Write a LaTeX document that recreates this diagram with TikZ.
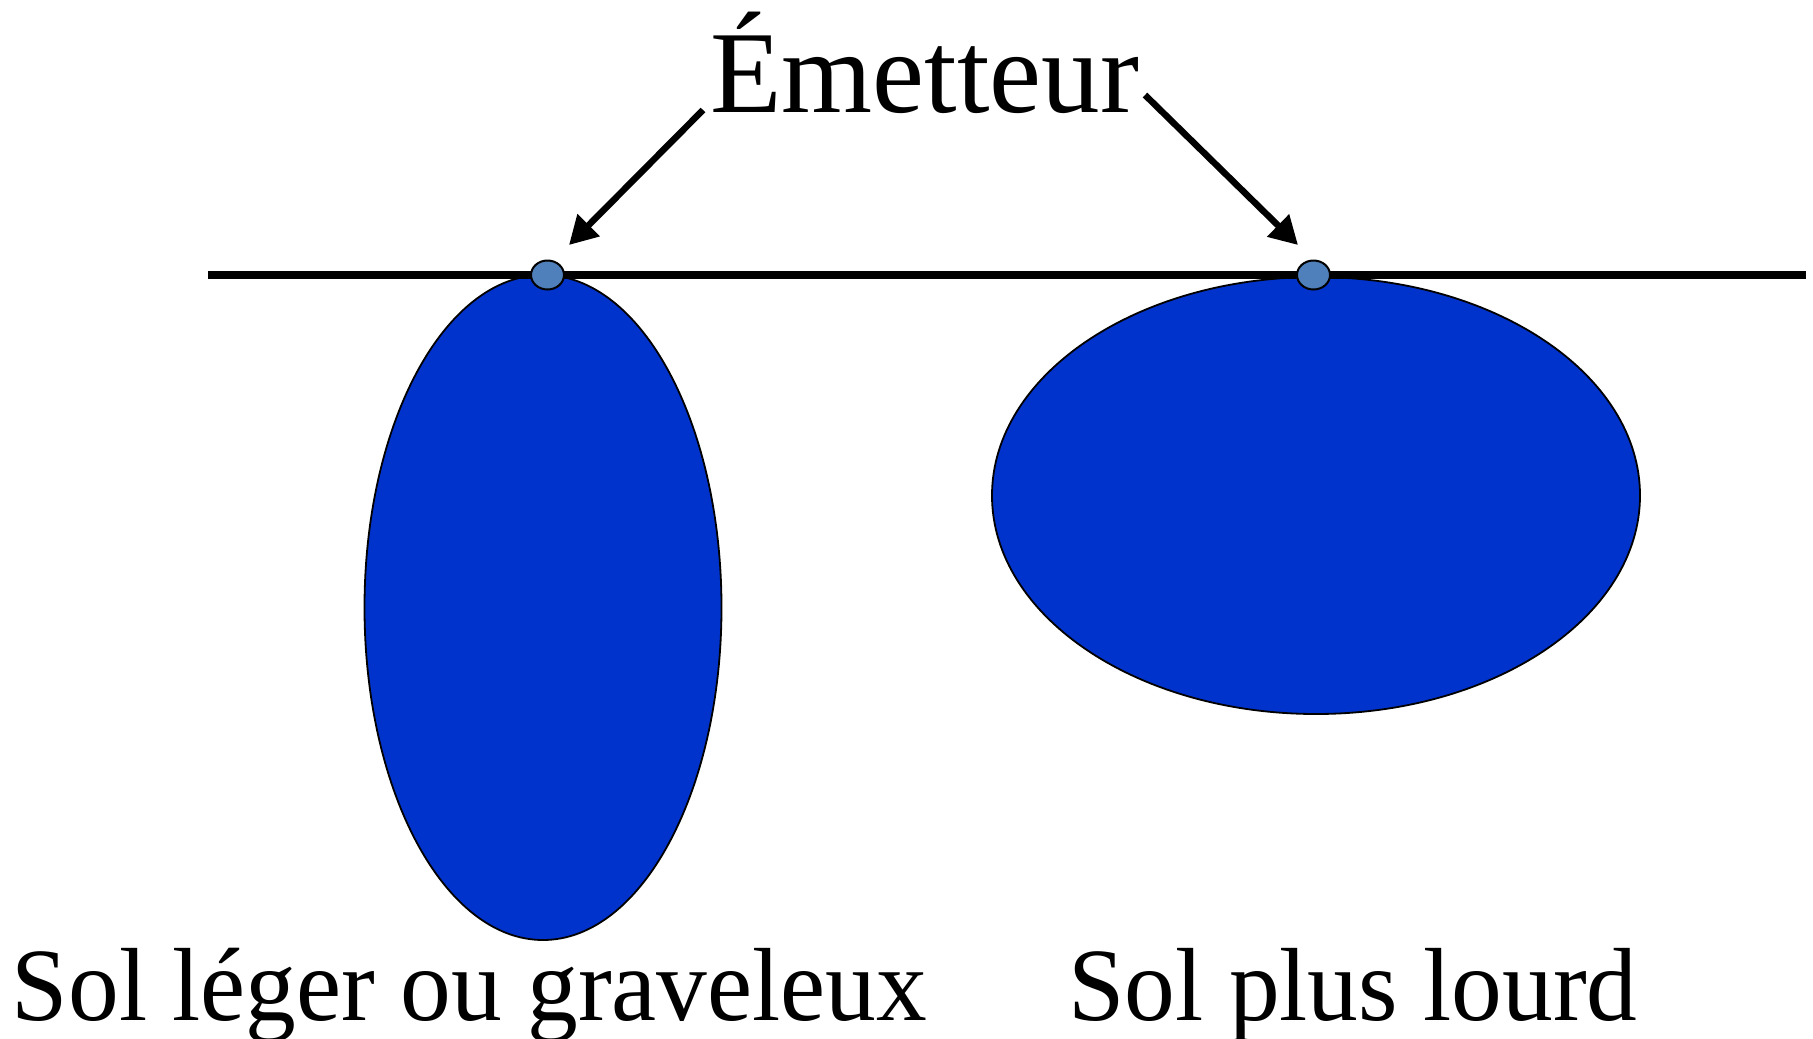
\documentclass[tikz,border=0pt]{standalone}
\usepackage{fontspec}
\setmainfont{Liberation Serif}
\usetikzlibrary{arrows.meta,shapes.geometric}
\definecolor{soilblue}{HTML}{0033CC}
\definecolor{dotblue}{HTML}{5080BB}
\tikzset{
  bulb/.style={draw=black, line width=1.8pt, fill=soilblue},
  emitter/.style={draw=black, line width=2pt, fill=dotblue, ellipse, minimum width=33pt, minimum height=29pt, inner sep=0pt},
  ground/.style={line width=7.5pt},
  pointer/.style={line width=6.5pt, -{Triangle[length=28pt,width=30pt]}},
  bigtext/.style={inner sep=0pt, font=\fontsize{117}{120}\selectfont},
  lowtext/.style={inner sep=0pt, font=\fontsize{104}{110}\selectfont, xscale=0.975}
}
\begin{document}
\begin{tikzpicture}[x=1pt,y=-1pt]
\useasboundingbox (0,0) rectangle (1813,1039);
% soil bulbs
\draw[bulb] (543,607.5) ellipse [x radius=178.5, y radius=332.5];
\draw[bulb] (1316,495.5) ellipse [x radius=324, y radius=218.5];
% ground line
\coordinate (gl) at (208,275);
\coordinate (gr) at (1806,275);
\draw[ground] (gl) -- (gr);
% emitters
\node[emitter] (e1) at (547.5,275) {};
\node[emitter] (e2) at (1313.5,275) {};
% title
\node[bigtext, anchor=base] (title) at (924.5,112) {Émetteur};
\coordinate (a1s) at (703,110);
\coordinate (a1e) at (569,245);
\coordinate (a2s) at (1145,95);
\coordinate (a2e) at (1298,245);
\draw[pointer] (a1s) -- (a1e);
\draw[pointer] (a2s) -- (a2e);
% labels
\node[lowtext, anchor=base] (l1) at (469.5,1020) {Sol léger ou graveleux};
\node[lowtext, anchor=base] (l2) at (1353,1020) {Sol plus lourd};
\end{tikzpicture}
\end{document}
